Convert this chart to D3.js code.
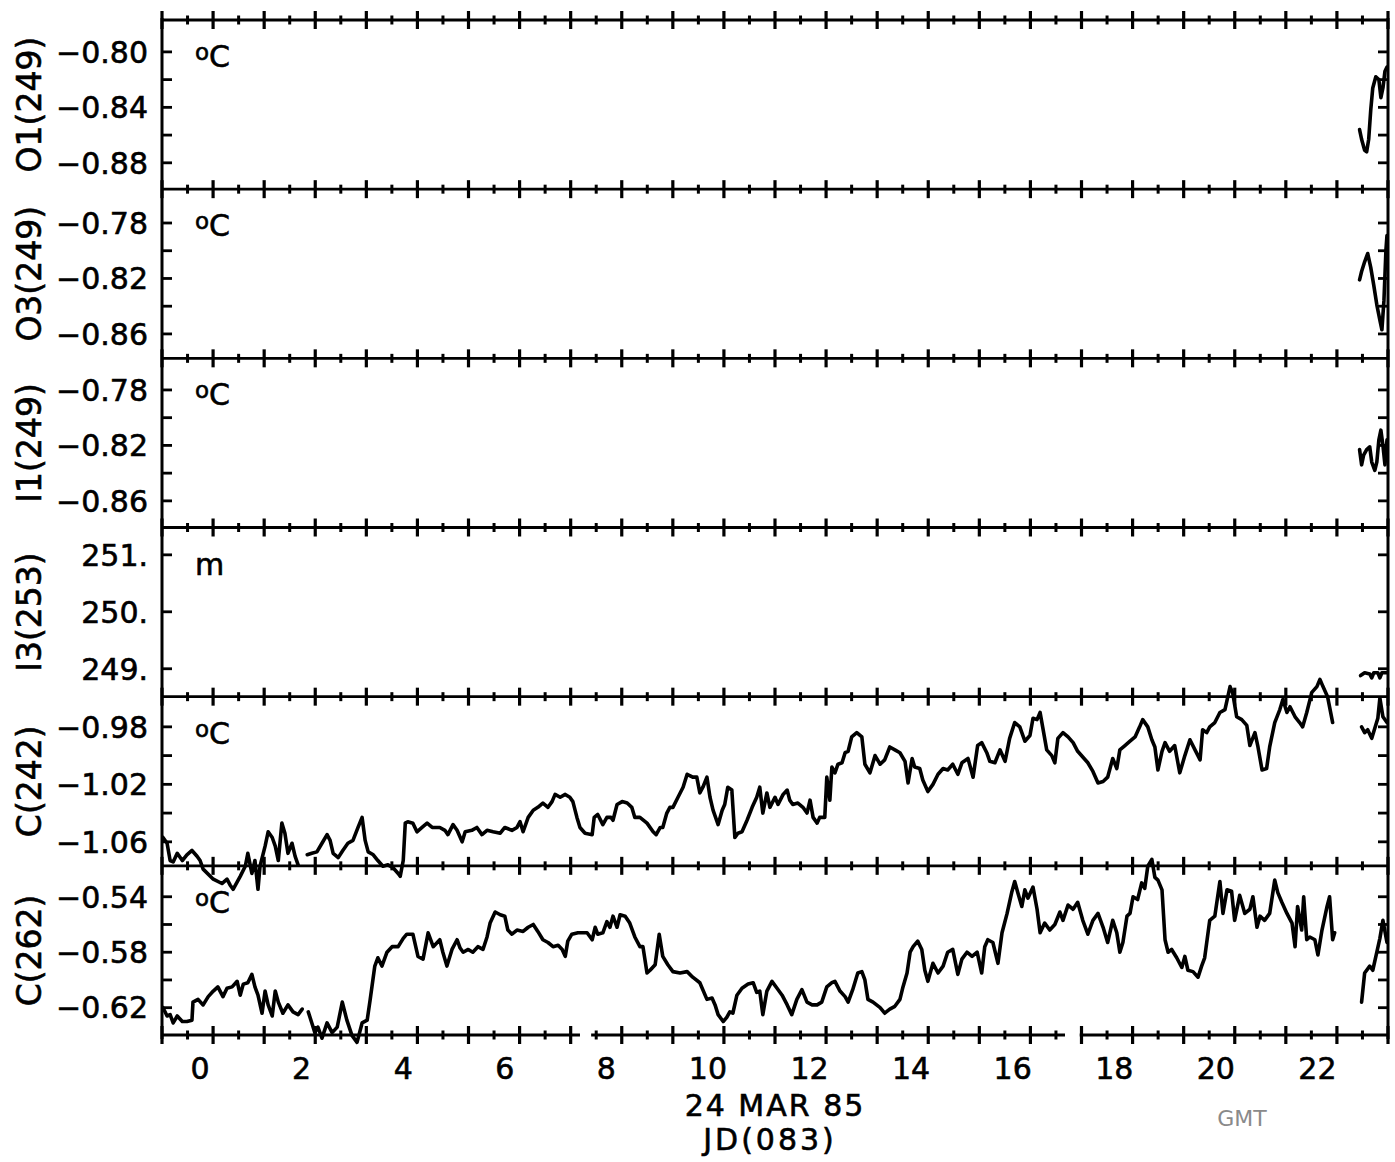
<!DOCTYPE html>
<html><head><meta charset="utf-8">
<script src="https://cdn.jsdelivr.net/npm/d3@7"></script>
<style>body{margin:0;background:#fff}svg{display:block}</style>
</head><body>
<svg id="chart" width="1395" height="1162"></svg>
<script>
// ---------------- data ----------------
const panelTitles = ["O1(249)", "O3(249)", "I1(249)", "I3(253)", "C(242)", "C(262)"];
const panelUnits = ["C", "C", "C", "m", "C", "C"];
const panelIsTemp = [true, true, true, false, true, true];
const panelDomains = [[-0.899, -0.777], [-0.8776, -0.7556], [-0.8792, -0.7572], [248.51, 251.48], [-1.0767, -0.959], [-0.6397, -0.5177]];
const panelTickLabels = [[-0.80, -0.84, -0.88], [-0.78, -0.82, -0.86], [-0.78, -0.82, -0.86], [251, 250, 249], [-0.98, -1.02, -1.06], [-0.54, -0.58, -0.62]];
const panelMinorTicks = [[-0.82, -0.86], [-0.80, -0.84], [-0.80, -0.84], [], [-1.00, -1.04], [-0.56, -0.60]];
const xDomain = [-0.75, 23.39];
const xTickLabels = [0, 2, 4, 6, 8, 10, 12, 14, 16, 18, 20, 22];
const bottomAxisGaps = [[7.48, 7.70], [17.03, 17.32]];

const o1 = [[22.83,-0.856],[22.87,-0.863],[22.93,-0.871],[22.97,-0.872],[23.01,-0.863],[23.05,-0.842],[23.09,-0.826],[23.15,-0.818],[23.21,-0.820],[23.25,-0.833],[23.29,-0.826],[23.33,-0.814],[23.37,-0.811]];
const o3 = [[22.83,-0.821],[22.87,-0.815],[22.93,-0.808],[22.99,-0.802],[23.05,-0.812],[23.11,-0.825],[23.17,-0.839],[23.23,-0.850],[23.27,-0.857],[23.31,-0.836],[23.35,-0.799],[23.37,-0.789]];
const i1 = [[22.83,-0.823],[22.87,-0.834],[22.91,-0.827],[22.97,-0.823],[23.03,-0.821],[23.07,-0.832],[23.13,-0.838],[23.17,-0.832],[23.21,-0.816],[23.25,-0.809],[23.29,-0.820],[23.33,-0.834],[23.37,-0.816]];
const i3 = [[22.85,248.88],[22.93,248.93],[23.03,248.91],[23.07,248.84],[23.11,248.93],[23.19,248.93],[23.23,248.84],[23.27,248.93],[23.37,248.93]];
const c242 = [[-0.73,-1.057],[-0.65,-1.061],[-0.59,-1.073],[-0.53,-1.074],[-0.45,-1.068],[-0.35,-1.073],[-0.26,-1.069],[-0.16,-1.066],[-0.06,-1.070],[0.00,-1.073],[0.06,-1.079],[0.26,-1.086],[0.43,-1.089],[0.53,-1.086],[0.59,-1.090],[0.65,-1.093],[0.79,-1.084],[0.89,-1.077],[0.94,-1.068],[1.02,-1.082],[1.08,-1.073],[1.14,-1.093],[1.18,-1.077],[1.28,-1.063],[1.34,-1.053],[1.42,-1.057],[1.48,-1.063],[1.54,-1.073],[1.61,-1.047],[1.67,-1.054],[1.73,-1.068],[1.81,-1.061],[1.87,-1.070],[1.93,-1.076],[2.02,null],
[2.11,-1.069],[2.20,-1.068],[2.30,-1.067],[2.40,-1.061],[2.50,-1.055],[2.56,-1.059],[2.62,-1.068],[2.72,-1.071],[2.81,-1.066],[2.91,-1.061],[3.01,-1.059],[3.11,-1.050],[3.19,-1.043],[3.25,-1.059],[3.31,-1.067],[3.41,-1.069],[3.50,-1.073],[3.60,-1.077],[3.70,-1.076],[3.80,-1.078],[3.90,-1.082],[3.94,-1.084],[4.00,-1.073],[4.04,-1.047],[4.09,-1.046],[4.19,-1.047],[4.27,-1.053],[4.37,-1.050],[4.47,-1.047],[4.57,-1.050],[4.67,-1.050],[4.72,-1.050],[4.82,-1.052],[4.88,-1.055],[4.98,-1.048],[5.06,-1.052],[5.16,-1.060],[5.22,-1.053],[5.35,-1.052],[5.45,-1.050],[5.55,-1.055],[5.65,-1.052],[5.77,-1.053],[5.91,-1.054],[6.00,-1.050],[6.14,-1.052],[6.24,-1.050],[6.30,-1.046],[6.36,-1.053],[6.46,-1.043],[6.56,-1.038],[6.65,-1.036],[6.75,-1.033],[6.85,-1.036],[6.93,-1.032],[6.99,-1.027],[7.09,-1.029],[7.19,-1.027],[7.28,-1.029],[7.34,-1.032],[7.42,-1.043],[7.48,-1.050],[7.58,-1.054],[7.72,-1.055],[7.76,-1.043],[7.83,-1.041],[7.93,-1.048],[8.01,-1.043],[8.09,-1.043],[8.13,-1.045],[8.21,-1.034],[8.31,-1.032],[8.41,-1.033],[8.50,-1.036],[8.56,-1.043],[8.66,-1.043],[8.80,-1.047],[8.92,-1.053],[8.98,-1.055],[9.06,-1.050],[9.11,-1.050],[9.19,-1.040],[9.25,-1.036],[9.31,-1.036],[9.41,-1.029],[9.51,-1.022],[9.59,-1.013],[9.70,-1.015],[9.78,-1.015],[9.84,-1.026],[9.90,-1.022],[9.98,-1.015],[10.04,-1.029],[10.10,-1.038],[10.20,-1.048],[10.28,-1.038],[10.33,-1.034],[10.39,-1.022],[10.47,-1.024],[10.53,-1.057],[10.59,-1.054],[10.67,-1.053],[10.77,-1.045],[10.87,-1.036],[10.96,-1.029],[11.02,-1.022],[11.08,-1.040],[11.16,-1.026],[11.22,-1.036],[11.32,-1.029],[11.38,-1.034],[11.48,-1.027],[11.56,-1.024],[11.61,-1.031],[11.67,-1.034],[11.77,-1.033],[11.87,-1.036],[11.95,-1.040],[12.01,-1.031],[12.07,-1.043],[12.15,-1.047],[12.20,-1.043],[12.30,-1.043],[12.34,-1.015],[12.40,-1.031],[12.44,-1.008],[12.50,-1.012],[12.56,-1.006],[12.64,-1.005],[12.70,-0.998],[12.76,-0.997],[12.83,-0.987],[12.93,-0.984],[13.03,-0.987],[13.09,-1.006],[13.19,-1.012],[13.29,-1.000],[13.39,-1.006],[13.48,-1.003],[13.58,-0.994],[13.68,-0.996],[13.78,-0.998],[13.88,-1.004],[13.94,-1.019],[14.02,-1.002],[14.07,-1.008],[14.17,-1.009],[14.23,-1.017],[14.33,-1.025],[14.43,-1.020],[14.53,-1.013],[14.63,-1.009],[14.72,-1.010],[14.82,-1.006],[14.92,-1.013],[15.00,-1.005],[15.12,-1.002],[15.22,-1.015],[15.31,-0.993],[15.39,-0.991],[15.49,-0.998],[15.55,-1.004],[15.65,-1.005],[15.75,-0.996],[15.85,-1.004],[15.94,-0.988],[16.04,-0.977],[16.14,-0.980],[16.24,-0.990],[16.34,-0.986],[16.40,-0.974],[16.48,-0.975],[16.54,-0.970],[16.59,-0.980],[16.67,-0.996],[16.77,-1.000],[16.83,-1.005],[16.89,-0.988],[16.99,-0.984],[17.09,-0.987],[17.19,-0.991],[17.28,-0.997],[17.38,-1.001],[17.48,-1.005],[17.58,-1.011],[17.68,-1.019],[17.78,-1.018],[17.87,-1.015],[17.97,-1.002],[18.05,-1.009],[18.11,-0.996],[18.21,-0.993],[18.31,-0.990],[18.41,-0.987],[18.50,-0.980],[18.56,-0.975],[18.66,-0.980],[18.74,-0.989],[18.80,-0.994],[18.86,-1.010],[18.94,-0.997],[19.00,-0.991],[19.09,-0.997],[19.19,-0.993],[19.29,-1.012],[19.39,-1.000],[19.49,-0.989],[19.59,-0.996],[19.69,-1.003],[19.74,-0.982],[19.82,-0.984],[19.88,-0.980],[19.98,-0.977],[20.08,-0.970],[20.18,-0.968],[20.28,-0.952],[20.33,-0.956],[20.41,-0.973],[20.51,-0.975],[20.61,-0.979],[20.67,-0.993],[20.77,-0.984],[20.83,-0.994],[20.91,-1.010],[21.00,-1.009],[21.06,-0.994],[21.16,-0.977],[21.26,-0.968],[21.32,-0.961],[21.40,-0.970],[21.46,-0.966],[21.56,-0.973],[21.65,-0.977],[21.71,-0.980],[21.79,-0.970],[21.89,-0.956],[21.99,-0.952],[22.05,-0.947],[22.11,-0.952],[22.20,-0.959],[22.30,-0.977],[22.60,null],
[22.87,-0.980],[22.93,-0.984],[22.99,-0.982],[23.07,-0.988],[23.13,-0.981],[23.19,-0.974],[23.23,-0.960],[23.29,-0.973],[23.37,-0.977]];
const c262 = [[-0.73,-0.620],[-0.65,-0.626],[-0.59,-0.625],[-0.53,-0.631],[-0.45,-0.626],[-0.35,-0.630],[-0.26,-0.630],[-0.16,-0.629],[-0.14,-0.616],[-0.04,-0.614],[0.06,-0.618],[0.16,-0.612],[0.26,-0.608],[0.35,-0.605],[0.45,-0.612],[0.53,-0.606],[0.63,-0.605],[0.73,-0.601],[0.79,-0.611],[0.85,-0.603],[0.94,-0.602],[1.02,-0.596],[1.08,-0.605],[1.14,-0.611],[1.22,-0.624],[1.28,-0.608],[1.34,-0.618],[1.42,-0.626],[1.48,-0.608],[1.54,-0.616],[1.63,-0.624],[1.73,-0.618],[1.83,-0.623],[1.93,-0.625],[2.01,-0.621],[2.07,null],
[2.13,-0.623],[2.20,-0.631],[2.26,-0.638],[2.32,-0.634],[2.40,-0.642],[2.50,-0.631],[2.60,-0.638],[2.70,-0.634],[2.80,-0.616],[2.89,-0.629],[2.99,-0.640],[3.09,-0.645],[3.19,-0.631],[3.29,-0.629],[3.35,-0.614],[3.44,-0.590],[3.50,-0.584],[3.58,-0.590],[3.68,-0.580],[3.78,-0.576],[3.90,-0.576],[4.00,-0.570],[4.07,-0.567],[4.19,-0.567],[4.29,-0.583],[4.39,-0.585],[4.49,-0.566],[4.59,-0.576],[4.72,-0.571],[4.78,-0.580],[4.86,-0.590],[4.96,-0.578],[5.06,-0.571],[5.12,-0.577],[5.18,-0.580],[5.28,-0.578],[5.37,-0.580],[5.47,-0.576],[5.57,-0.578],[5.65,-0.569],[5.71,-0.559],[5.81,-0.551],[5.91,-0.553],[6.00,-0.554],[6.06,-0.564],[6.14,-0.567],[6.24,-0.564],[6.36,-0.565],[6.46,-0.562],[6.56,-0.560],[6.65,-0.565],[6.75,-0.571],[6.85,-0.573],[6.95,-0.576],[7.05,-0.575],[7.13,-0.578],[7.19,-0.583],[7.24,-0.572],[7.32,-0.567],[7.44,-0.566],[7.62,-0.566],[7.72,-0.571],[7.78,-0.562],[7.83,-0.567],[7.93,-0.566],[8.01,-0.558],[8.07,-0.562],[8.13,-0.554],[8.21,-0.562],[8.27,-0.553],[8.37,-0.554],[8.46,-0.559],[8.56,-0.569],[8.66,-0.576],[8.72,-0.576],[8.80,-0.595],[8.86,-0.593],[8.96,-0.589],[9.04,-0.567],[9.11,-0.583],[9.21,-0.589],[9.31,-0.594],[9.45,-0.595],[9.59,-0.594],[9.70,-0.598],[9.84,-0.602],[9.98,-0.614],[10.08,-0.613],[10.14,-0.618],[10.20,-0.625],[10.30,-0.630],[10.37,-0.627],[10.43,-0.623],[10.49,-0.624],[10.57,-0.611],[10.67,-0.606],[10.79,-0.603],[10.89,-0.602],[10.96,-0.609],[11.02,-0.608],[11.08,-0.625],[11.16,-0.608],[11.26,-0.601],[11.36,-0.606],[11.46,-0.611],[11.56,-0.618],[11.65,-0.625],[11.75,-0.614],[11.85,-0.607],[11.95,-0.616],[12.05,-0.618],[12.15,-0.618],[12.24,-0.616],[12.34,-0.605],[12.44,-0.602],[12.50,-0.601],[12.60,-0.608],[12.70,-0.612],[12.76,-0.616],[12.85,-0.607],[12.95,-0.595],[13.03,-0.594],[13.09,-0.600],[13.15,-0.614],[13.25,-0.616],[13.39,-0.620],[13.48,-0.624],[13.58,-0.621],[13.68,-0.619],[13.78,-0.614],[13.84,-0.605],[13.92,-0.595],[13.98,-0.580],[14.04,-0.576],[14.13,-0.572],[14.21,-0.578],[14.27,-0.593],[14.33,-0.601],[14.43,-0.588],[14.53,-0.595],[14.63,-0.590],[14.72,-0.580],[14.82,-0.578],[14.92,-0.596],[15.00,-0.585],[15.10,-0.580],[15.20,-0.583],[15.30,-0.580],[15.39,-0.595],[15.45,-0.576],[15.51,-0.571],[15.61,-0.573],[15.71,-0.588],[15.79,-0.566],[15.89,-0.552],[15.98,-0.537],[16.04,-0.529],[16.10,-0.537],[16.18,-0.547],[16.24,-0.535],[16.30,-0.541],[16.40,-0.533],[16.48,-0.549],[16.54,-0.566],[16.63,-0.559],[16.73,-0.564],[16.83,-0.560],[16.93,-0.551],[16.99,-0.557],[17.09,-0.546],[17.19,-0.549],[17.28,-0.544],[17.38,-0.557],[17.48,-0.567],[17.58,-0.557],[17.68,-0.552],[17.78,-0.562],[17.87,-0.573],[17.97,-0.557],[18.05,-0.566],[18.11,-0.580],[18.17,-0.573],[18.25,-0.554],[18.31,-0.552],[18.37,-0.540],[18.46,-0.542],[18.54,-0.530],[18.60,-0.534],[18.66,-0.518],[18.74,-0.513],[18.80,-0.526],[18.86,-0.528],[18.94,-0.535],[19.00,-0.571],[19.06,-0.580],[19.13,-0.578],[19.23,-0.584],[19.33,-0.591],[19.39,-0.583],[19.45,-0.593],[19.55,-0.594],[19.65,-0.598],[19.72,-0.590],[19.78,-0.584],[19.88,-0.557],[19.98,-0.554],[20.08,-0.529],[20.14,-0.552],[20.22,-0.535],[20.31,-0.536],[20.37,-0.557],[20.47,-0.539],[20.57,-0.552],[20.67,-0.549],[20.73,-0.540],[20.81,-0.562],[20.87,-0.554],[20.96,-0.557],[21.06,-0.552],[21.16,-0.528],[21.22,-0.537],[21.30,-0.544],[21.40,-0.552],[21.50,-0.559],[21.56,-0.576],[21.61,-0.547],[21.69,-0.564],[21.73,-0.540],[21.79,-0.571],[21.85,-0.569],[21.95,-0.571],[22.01,-0.582],[22.09,-0.564],[22.19,-0.547],[22.24,-0.540],[22.30,-0.571],[22.34,-0.566],[22.60,null],
[22.87,-0.616],[22.93,-0.595],[23.03,-0.590],[23.09,-0.593],[23.17,-0.580],[23.23,-0.570],[23.29,-0.557],[23.37,-0.573]];
const panelSeries = [o1, o3, i1, i3, c242, c262];

// ---------------- layout ----------------
const plotLeft = 162, plotRight = 1388, plotTop = 20, plotBottom = 1035;
const panelH = (plotBottom - plotTop) / 6;
const FONT = "'DejaVu Sans', sans-serif";

const svg = d3.select("#chart");
svg.append("rect").attr("width", 1395).attr("height", 1162).attr("fill", "#fff");

const x = d3.scaleLinear().domain(xDomain).range([plotLeft, plotRight]);
const nHalf = 48;
const xTicks = d3.range(nHalf + 1).map(i => ({ h: xDomain[0] + i * (xDomain[1] - xDomain[0]) / nHalf, major: i % 2 === 0 }));

const axisG = svg.append("g").attr("stroke", "#000").attr("fill", "none");
const textG = svg.append("g").attr("font-family", FONT).attr("fill", "#000")
  .attr("stroke", "#000").attr("stroke-width", 0.6);

// horizontal frame lines with crossing ticks
for (let k = 0; k <= 6; k++) {
  const yy = plotTop + k * panelH;
  if (k === 6) {
    let start = xDomain[0];
    const pieces = [];
    bottomAxisGaps.forEach(g => { pieces.push([start, g[0]]); start = g[1]; });
    pieces.push([start, xDomain[1]]);
    pieces.forEach(p => axisG.append("line").attr("x1", x(p[0])).attr("x2", x(p[1])).attr("y1", yy).attr("y2", yy).attr("stroke-width", 2.8));
  } else {
    axisG.append("line").attr("x1", plotLeft).attr("x2", plotRight).attr("y1", yy).attr("y2", yy).attr("stroke-width", 2.8);
  }
  xTicks.forEach(t => {
    const len = t.major ? 9 : 4.5;
    axisG.append("line").attr("x1", x(t.h)).attr("x2", x(t.h))
      .attr("y1", yy - len).attr("y2", yy + len)
      .attr("stroke-width", t.major ? 3.2 : 3);
  });
}
// vertical frame lines
axisG.append("line").attr("x1", plotLeft).attr("x2", plotLeft).attr("y1", plotTop - 2).attr("y2", plotBottom + 4).attr("stroke-width", 3);
axisG.append("line").attr("x1", plotRight).attr("x2", plotRight).attr("y1", plotTop - 2).attr("y2", plotBottom + 4).attr("stroke-width", 3);

const fmt = (v, isTemp) => isTemp ? (v < 0 ? "\u2212" : "") + Math.abs(v).toFixed(2) : d3.format("d")(v) + ".";

const line = d3.line().defined(d => d[1] !== null).curve(d3.curveLinear);

panelTitles.forEach((title, i) => {
  const top = plotTop + i * panelH, bottom = top + panelH;
  const y = d3.scaleLinear().domain(panelDomains[i]).range([bottom, top]);
  const allTicks = panelTickLabels[i].concat(panelMinorTicks[i]);
  allTicks.forEach(v => {
    axisG.append("line").attr("x1", plotLeft).attr("x2", plotLeft + 10).attr("y1", y(v)).attr("y2", y(v)).attr("stroke-width", 2.8);
    axisG.append("line").attr("x1", plotRight - 10).attr("x2", plotRight).attr("y1", y(v)).attr("y2", y(v)).attr("stroke-width", 2.8);
  });
  panelTickLabels[i].forEach(v => {
    textG.append("text").attr("x", 148).attr("y", y(v)).attr("dy", "0.36em")
      .attr("text-anchor", "end").attr("font-size", 30)
      .text(fmt(v, panelIsTemp[i]));
  });
  textG.append("text")
    .attr("transform", `translate(29,${(top + bottom) / 2}) rotate(-90)`)
    .attr("text-anchor", "middle").attr("dy", "0.36em")
    .attr("font-size", 33).text(title);
  const u = textG.append("text").attr("x", 195).attr("y", top + 47).attr("font-size", 30);
  if (panelUnits[i] === "C") {
    u.append("tspan").attr("font-size", 23).attr("dy", -7).text("o");
    u.append("tspan").attr("dy", 7).text("C");
  } else {
    u.text(panelUnits[i]);
  }
  line.x(d => x(d[0])).y(d => y(d[1]));
  svg.append("path").datum(panelSeries[i]).attr("d", line)
    .attr("fill", "none").attr("stroke", "#000").attr("stroke-width", 3.6)
    .attr("stroke-linejoin", "round").attr("stroke-linecap", "round");
});

// x tick labels
xTickLabels.forEach(h => {
  textG.append("text").attr("x", x(h)).attr("y", 1079).attr("text-anchor", "middle")
    .attr("font-size", 30).text(h);
});
textG.append("text").attr("x", 775).attr("y", 1116).attr("text-anchor", "middle")
  .attr("font-size", 30).attr("letter-spacing", 2).text("24 MAR 85");
textG.append("text").attr("x", 770).attr("y", 1150).attr("text-anchor", "middle")
  .attr("font-size", 30).attr("letter-spacing", 3).text("JD(083)");
svg.append("text").attr("x", 1242).attr("y", 1126).attr("text-anchor", "middle")
  .attr("font-family", FONT).attr("font-size", 22).attr("fill", "#8a8a8a").text("GMT");
</script>
</body></html>
